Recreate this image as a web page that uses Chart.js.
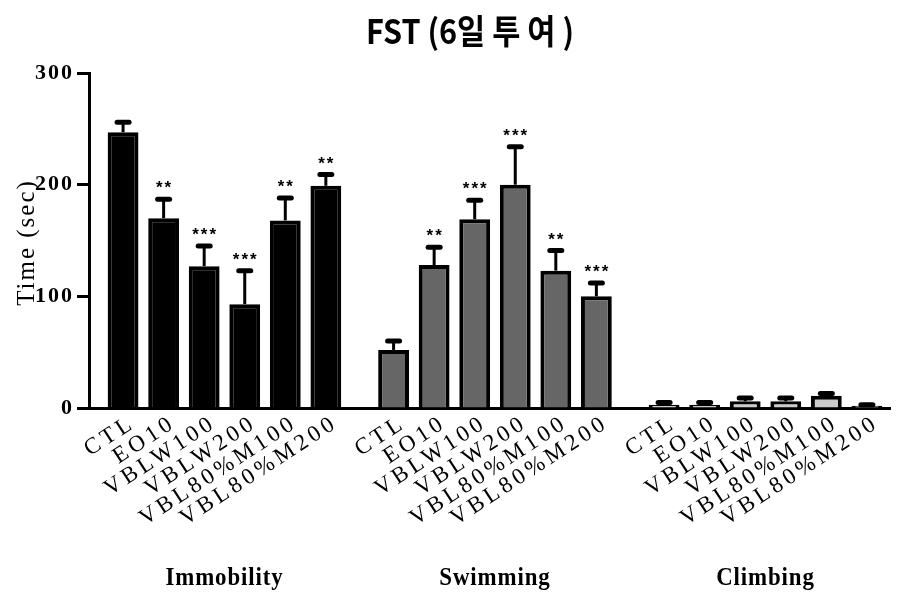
<!DOCTYPE html>
<html>
<head>
<meta charset="utf-8">
<script src="https://cdn.jsdelivr.net/npm/chart.js@4/dist/chart.umd.min.js"></script>
<style>
    html, body { margin: 0; padding: 0; background: #fff; }
    #wrap { width: 901px; height: 596px; }
</style>
</head>
<body>
<div id="wrap"><canvas id="fst-chart"></canvas></div>
<script>
var treatments = ['CTL', 'EO10', 'VBLW100', 'VBLW200', 'VBL80%M100', 'VBL80%M200']
var groups = ['Immobility', 'Swimming', 'Climbing']

var immobility = [247, 170, 127, 93, 168, 199]
var immobilityErr = [9, 17, 18, 30, 20, 10]
var swimming = [52, 128, 169, 200, 123, 100]
var swimmingErr = [8, 16, 17, 34, 18, 12]
var climbing = [3, 3, 6, 6, 11, 2]
var climbingErr = [2, 2, 3, 3, 2, 1]

var immobilityStars = ['', '**', '***', '***', '**', '**']
var swimmingStars = ['', '**', '***', '***', '**', '***']
var climbingStars = ['', '', '', '', '', '']

var yTicks = [0, 100, 200, 300]
var groupStep = 6.67

function points(values, g) {
    return values.map(function (v, i) {
        return { x: g * groupStep + i, y: v }
    })
}

function makeSet(label, values, errs, stars, g, fill) {
    return {
        label: label,
        data: points(values, g),
        err: errs,
        stars: stars,
        backgroundColor: fill,
        borderColor: '#000',
        borderWidth: 4,
        grouped: false,
        barPercentage: 0.76,
        categoryPercentage: 1
    }
}

var fstDecor = {
    id: 'fstDecor',
    beforeDraw: function (chart) {
        chart.ctx.letterSpacing = '2px'
    },
    afterDatasetsDraw: function (chart) {
        var ctx = chart.ctx
        var y = chart.scales.y
        chart.data.datasets.forEach(function (ds, d) {
            var meta = chart.getDatasetMeta(d)
            meta.data.forEach(function (bar, i) {
                var top = y.getPixelForValue(ds.data[i].y + ds.err[i])
                ctx.save()
                ctx.strokeStyle = '#000'
                ctx.lineWidth = 3
                ctx.beginPath()
                ctx.moveTo(bar.x, bar.y)
                ctx.lineTo(bar.x, top)
                ctx.stroke()
                ctx.lineWidth = 5
                ctx.lineCap = 'round'
                ctx.beginPath()
                ctx.moveTo(bar.x - 6, top)
                ctx.lineTo(bar.x + 6, top)
                ctx.stroke()
                if (ds.stars[i]) {
                    ctx.letterSpacing = '2px'
                    ctx.fillStyle = '#000'
                    ctx.font = 'bold 17px "Liberation Sans"'
                    ctx.textAlign = 'center'
                    ctx.textBaseline = 'alphabetic'
                    ctx.fillText(ds.stars[i], bar.x + 1, top - 6)
                }
                ctx.restore()
            })
        })
    },
    afterDraw: function (chart) {
        var ctx = chart.ctx
        var area = chart.chartArea

        // title
        ctx.save()
        ctx.letterSpacing = '0px'
        ctx.translate(470, 31)
        ctx.scale(0.9, 1)
        ctx.font = 'bold 34px "Noto Sans CJK KR"'
        ctx.fillStyle = '#000'
        ctx.textAlign = 'center'
        ctx.textBaseline = 'middle'
        ctx.fillText('FST (6일 투 여 )', 0, 0)
        ctx.restore()

        // y axis title
        ctx.save()
        ctx.letterSpacing = '2px'
        ctx.translate(27, (area.top + area.bottom) / 2 + 2)
        ctx.rotate(-Math.PI / 2)
        ctx.font = '25px "Liberation Serif"'
        ctx.fillStyle = '#000'
        ctx.textAlign = 'center'
        ctx.textBaseline = 'middle'
        ctx.fillText('Time (sec)', 0, 0)
        ctx.restore()

        // treatment labels and group labels
        chart.data.datasets.forEach(function (ds, d) {
            var meta = chart.getDatasetMeta(d)
            meta.data.forEach(function (bar, i) {
                ctx.save()
                ctx.letterSpacing = '4px'
                ctx.translate(bar.x + 10, area.bottom + 13)
                ctx.rotate(-33 * Math.PI / 180)
                ctx.font = '23px "Liberation Serif"'
                ctx.fillStyle = '#000'
                ctx.textAlign = 'right'
                ctx.textBaseline = 'middle'
                ctx.fillText(treatments[i], 0, 0)
                ctx.restore()
            })
            var first = meta.data[0].x
            var last = meta.data[meta.data.length - 1].x
            ctx.save()
            ctx.letterSpacing = '1px'
            ctx.translate((first + last) / 2, 578)
            ctx.scale(0.88, 1)
            ctx.font = 'bold 26px "Liberation Serif"'
            ctx.fillStyle = '#000'
            ctx.textAlign = 'center'
            ctx.textBaseline = 'middle'
            ctx.fillText(groups[d], 0, 0)
            ctx.restore()
        })
    }
}

var ctx = document.getElementById('fst-chart').getContext('2d')
var fstChart = new Chart(ctx, {
    type: 'bar',
    data: {
        datasets: [
            makeSet(groups[0], immobility, immobilityErr, immobilityStars, 0, '#000000'),
            makeSet(groups[1], swimming, swimmingErr, swimmingStars, 1, '#666666'),
            makeSet(groups[2], climbing, climbingErr, climbingStars, 2, '#cccccc')
        ]
    },
    options: {
        responsive: true,
        maintainAspectRatio: false,
        animation: false,
        devicePixelRatio: 1,
        layout: {
            padding: { top: 73, left: 0, right: 11, bottom: 0 }
        },
        plugins: {
            legend: { display: false },
            tooltip: { enabled: false },
            title: { display: false }
        },
        scales: {
            x: {
                type: 'linear',
                offset: false,
                min: -0.84,
                max: 18.91,
                afterFit: function (s) { s.height = 188 },
                ticks: { display: false },
                grid: { display: false },
                border: { display: true, color: '#000', width: 3 }
            },
            y: {
                min: 0,
                max: 300,
                afterFit: function (s) { s.width = 89 },
                afterBuildTicks: function (s) {
                    s.ticks = yTicks.map(function (v) { return { value: v } })
                },
                ticks: {
                    color: '#000',
                    padding: 3,
                    font: { family: '"Liberation Serif"', size: 22, weight: 'bold' }
                },
                grid: {
                    drawOnChartArea: false,
                    drawTicks: true,
                    tickLength: 12,
                    tickWidth: 3,
                    tickColor: '#000'
                },
                border: { display: true, color: '#000', width: 3 }
            }
        }
    },
    plugins: [fstDecor]
})
</script>
</body>
</html>
